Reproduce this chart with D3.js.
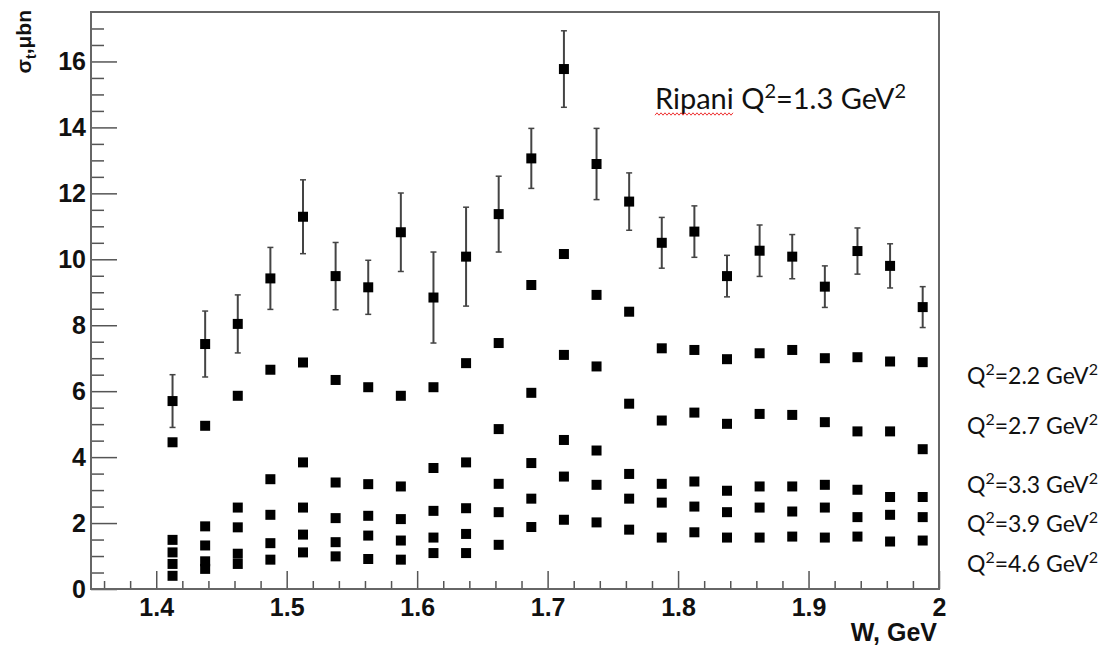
<!DOCTYPE html>
<html>
<head>
<meta charset="utf-8">
<script src="https://cdn.jsdelivr.net/npm/d3@7"></script>
<style>
  body { margin: 0; background: #fff; }
  .tick text { font-family: "Liberation Sans", Arial, sans-serif; font-weight: bold; font-size: 25px; fill: #111; }
  .tick line { stroke: #555; stroke-width: 1.5; }
  .note { font-family: Lato, "Open Sans", sans-serif; fill: #111; }
</style>
</head>
<body>
<div id="chart"></div>
<script>
// W bins, GeV
var W = [1.4125, 1.4375, 1.4625, 1.4875, 1.5125, 1.5375, 1.5625, 1.5875, 1.6125, 1.6375, 1.6625, 1.6875,
  1.7125, 1.7375, 1.7625, 1.7875, 1.8125, 1.8375, 1.8625, 1.8875, 1.9125, 1.9375, 1.9625, 1.9875];

// Ripani Q2=1.3 with errors
var sigma13 = [5.70, 7.43, 8.04, 9.42, 11.29, 9.49, 9.15, 10.82, 8.84, 10.08, 11.37, 13.06,
  15.77, 12.89, 11.75, 10.50, 10.84, 9.49, 10.26, 10.08, 9.17, 10.25, 9.80, 8.55];
var err13 = [0.80, 1.00, 0.88, 0.94, 1.12, 1.02, 0.82, 1.19, 1.38, 1.50, 1.15, 0.91,
  1.16, 1.08, 0.87, 0.77, 0.78, 0.63, 0.78, 0.67, 0.63, 0.70, 0.67, 0.62];

var sigma22 = [4.45, 4.95, 5.86, 6.65, 6.87, 6.34, 6.12, 5.86, 6.12, 6.85, 7.46, 9.22,
  10.16, 8.92, 8.41, 7.30, 7.25, 6.97, 7.15, 7.25, 7.00, 7.03, 6.90, 6.88];
var sigma27 = [1.49, 1.90, 2.47, 3.33, 3.84, 3.23, 3.18, 3.11, 3.67, 3.84, 4.85, 5.95,
  7.10, 6.75, 5.62, 5.11, 5.35, 5.01, 5.31, 5.28, 5.06, 4.78, 4.78, 4.24];
var sigma33 = [1.11, 1.32, 1.87, 2.25, 2.47, 2.15, 2.22, 2.12, 2.37, 2.45, 3.19, 3.82,
  4.52, 4.20, 3.49, 3.19, 3.26, 2.98, 3.11, 3.11, 3.16, 3.01, 2.79, 2.79];
var sigma39 = [0.76, 0.84, 1.07, 1.39, 1.65, 1.42, 1.62, 1.47, 1.56, 1.67, 2.33, 2.74,
  3.41, 3.16, 2.74, 2.62, 2.50, 2.33, 2.47, 2.35, 2.47, 2.18, 2.25, 2.18];
var sigma46 = [0.40, 0.61, 0.76, 0.89, 1.11, 0.99, 0.91, 0.89, 1.09, 1.09, 1.34, 1.88,
  2.10, 2.02, 1.80, 1.56, 1.72, 1.56, 1.56, 1.59, 1.56, 1.59, 1.44, 1.47];

var xMajor = [1.4, 1.5, 1.6, 1.7, 1.8, 1.9, 2];
var xMinor = [1.36, 1.38, 1.42, 1.44, 1.46, 1.48, 1.52, 1.54, 1.56, 1.58, 1.62, 1.64, 1.66, 1.68,
  1.72, 1.74, 1.76, 1.78, 1.82, 1.84, 1.86, 1.88, 1.92, 1.94, 1.96, 1.98];
var yMajor = [0, 2, 4, 6, 8, 10, 12, 14, 16];
var yMinor = [0.5, 1, 1.5, 2.5, 3, 3.5, 4.5, 5, 5.5, 6.5, 7, 7.5, 8.5, 9, 9.5, 10.5, 11, 11.5,
  12.5, 13, 13.5, 14.5, 15, 15.5, 16.5, 17];

var ripaniLabel = "Ripani Q²=1.3 GeV²";
var q2Labels = ["Q²=2.2 GeV²", "Q²=2.7 GeV²", "Q²=3.3 GeV²", "Q²=3.9 GeV²", "Q²=4.6 GeV²"];
// where the labels sit, in sigma units (layout only)
var q2LabelAt = [6.46, 4.95, 3.16, 1.98, 0.77];

var w = 1103, h = 647;
var padL = 91, padR = 939, padT = 12, padB = 589;

var svg = d3.select("#chart").append("svg")
  .attr("width", w)
  .attr("height", h);

var xscale = d3.scaleLinear().domain([1.35, 2.0]).range([padL, padR]);
var yscale = d3.scaleLinear().domain([0, 17.5]).range([padB, padT]);

// minor ticks first, then major with labels
svg.append("g").attr("class", "axis x minor")
  .attr("transform", "translate(0," + padB + ")")
  .call(d3.axisBottom(xscale).tickValues(xMinor).tickSize(-8).tickFormat(""));
svg.append("g").attr("class", "axis x")
  .attr("transform", "translate(0," + padB + ")")
  .call(d3.axisBottom(xscale).tickValues(xMajor).tickSize(-18).tickPadding(9).tickFormat(d3.format("")));

svg.append("g").attr("class", "axis y minor")
  .attr("transform", "translate(" + padL + ",0)")
  .call(d3.axisLeft(yscale).tickValues(yMinor).tickSize(-13).tickFormat(""));
svg.append("g").attr("class", "axis y")
  .attr("transform", "translate(" + padL + ",0)")
  .call(d3.axisLeft(yscale).tickValues(yMajor).tickSize(-26).tickPadding(5).tickFormat(d3.format("")));

svg.selectAll(".axis .domain").remove();
// blank minor tick labels are not needed
svg.selectAll(".axis.minor text").remove();

svg.append("rect")
  .attr("x", padL).attr("y", padT)
  .attr("width", padR - padL).attr("height", padB - padT)
  .attr("fill", "none")
  .attr("stroke", "#666")
  .attr("stroke-width", 2);

// axis titles
svg.append("text")
  .attr("x", padR - 2).attr("y", 641)
  .attr("text-anchor", "end")
  .style("font-family", "'Liberation Sans', Arial, sans-serif")
  .style("font-weight", "bold").style("font-size", "25px").style("fill", "#111")
  .text("W, GeV");

var ytitle = svg.append("text")
  .attr("transform", "translate(31,10) rotate(-90)")
  .attr("text-anchor", "end")
  .style("font-family", "'Liberation Sans', Arial, sans-serif")
  .style("font-weight", "bold").style("font-size", "21px").style("fill", "#111");
ytitle.append("tspan").text("σ");
ytitle.append("tspan").attr("dy", 5).style("font-size", "14px").text("t");
ytitle.append("tspan").attr("dy", -5).text(",μbn");

// error bars for Q2=1.3
var errs = svg.append("g").attr("stroke", "#444").attr("stroke-width", 2);
W.forEach(function(wv, i) {
  var x = xscale(wv), y0 = yscale(sigma13[i] - err13[i]), y1 = yscale(sigma13[i] + err13[i]);
  errs.append("line").attr("x1", x).attr("x2", x).attr("y1", y0).attr("y2", y1);
  errs.append("line").attr("x1", x - 3).attr("x2", x + 3).attr("y1", y0).attr("y2", y0).attr("stroke-width", 1.5);
  errs.append("line").attr("x1", x - 3).attr("x2", x + 3).attr("y1", y1).attr("y2", y1).attr("stroke-width", 1.5);
});

var allSeries = [sigma13, sigma22, sigma27, sigma33, sigma39, sigma46];
var sq = 10;
allSeries.forEach(function(series, s) {
  svg.append("g").attr("class", "series" + s)
    .selectAll("rect").data(series).enter().append("rect")
    .attr("x", function(d, i) { return xscale(W[i]) - sq / 2; })
    .attr("y", function(d) { return yscale(d) - sq / 2; })
    .attr("width", sq).attr("height", sq)
    .attr("fill", "#000");
});

// text with raised "2"s
function supText(sel, str, size) {
  var shift = Math.round(size * 0.38), back = 0;
  str.split(/(²)/).forEach(function(part) {
    if (!part) return;
    if (part === "²") {
      sel.append("tspan").attr("dy", -shift).style("font-size", Math.round(size * 0.68) + "px").text("2");
      back = shift;
    } else {
      sel.append("tspan").attr("dy", back).text(part);
      back = 0;
    }
  });
}

// annotations
var ripSize = 29;
var rip = svg.append("text").attr("class", "note")
  .attr("x", 655).attr("y", 109)
  .style("font-size", ripSize + "px");
supText(rip, ripaniLabel, ripSize);
var ripLen = rip.node().getSubStringLength(0, 6);
var wave = [];
for (var k = 0; k <= Math.round(ripLen / 2); k++) {
  wave.push([655 + k * 2, 114 + (k % 2 ? -1.2 : 1.2)]);
}
svg.append("path")
  .attr("d", d3.line()(wave))
  .attr("fill", "none")
  .attr("stroke", "#e33")
  .attr("stroke-width", 1);

var qSize = 23;
q2Labels.forEach(function(lab, i) {
  var t = svg.append("text").attr("class", "note q2")
    .attr("x", 967)
    .attr("y", yscale(q2LabelAt[i]) + 8)
    .style("font-size", qSize + "px");
  supText(t, lab, qSize);
});
</script>
</body>
</html>
